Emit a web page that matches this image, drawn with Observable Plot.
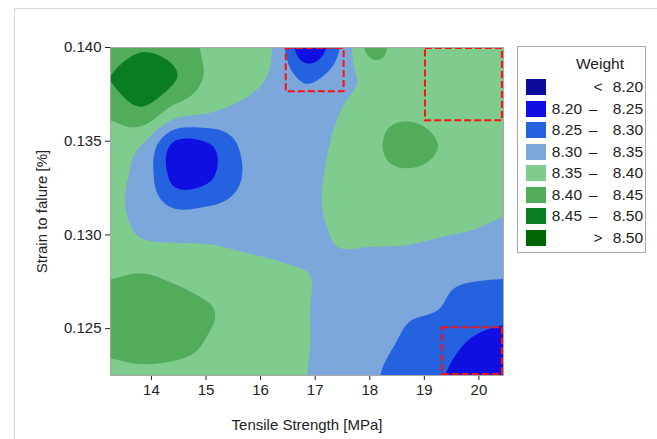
<!DOCTYPE html>
<html><head><meta charset="utf-8">
<script src="https://cdn.jsdelivr.net/npm/d3@7"></script>
<script src="https://cdn.jsdelivr.net/npm/@observablehq/plot@0.6"></script>
<style>
body{margin:0;background:#fff;}
#wrap{position:relative;width:657px;height:439px;overflow:hidden;font-family:"Liberation Sans",Arial,sans-serif;}
#panel{position:absolute;left:14px;top:8px;width:700px;height:500px;border-left:1px solid #d6d6d6;border-top:1px solid #d6d6d6;}
#chart{position:absolute;left:0;top:0;}
#legend{position:absolute;left:517px;top:46px;width:127px;height:205px;border:1px solid #a9a9a9;background:#fff;font-size:15.5px;color:#222;}
#legend .title{position:absolute;left:0;width:164px;top:8px;text-align:center;}
#legend .row{position:absolute;left:0;width:127px;height:20px;line-height:20px;}
#legend .sw{position:absolute;left:8px;top:2px;width:20px;height:16px;}
#legend .lo{position:absolute;left:28px;width:36px;text-align:right;}
#legend .mid{position:absolute;left:67px;width:16px;text-align:center;}
#legend .hi{position:absolute;left:82px;width:43px;text-align:right;}
</style>
</head><body>
<div id="wrap"><div id="panel"></div><div id="chart"></div><div id="legend"></div></div>
<script>
// grid of Weight values
const xGrid = [13.25, 13.85, 14.45, 15.05, 15.65, 16.25, 16.85, 17.45, 18.05, 18.65, 19.25, 19.85, 20.45];
const yGrid = [0.140, 0.13825, 0.1365, 0.13475, 0.133, 0.13125, 0.1295, 0.12775, 0.126, 0.12425, 0.1225];
const weightRows = [
  [8.425, 8.445, 8.43, 8.39, 8.37, 8.345, 8.21, 8.30, 8.418, 8.36, 8.37, 8.37, 8.37],
  [8.45, 8.49, 8.45, 8.39, 8.37, 8.34, 8.295, 8.33, 8.365, 8.38, 8.37, 8.37, 8.37],
  [8.41, 8.435, 8.37, 8.35, 8.335, 8.32, 8.315, 8.35, 8.38, 8.39, 8.38, 8.37, 8.37],
  [8.37, 8.345, 8.235, 8.245, 8.305, 8.32, 8.33, 8.36, 8.385, 8.43, 8.40, 8.375, 8.37],
  [8.36, 8.33, 8.235, 8.245, 8.30, 8.32, 8.34, 8.36, 8.38, 8.385, 8.38, 8.37, 8.36],
  [8.36, 8.335, 8.305, 8.31, 8.32, 8.325, 8.34, 8.36, 8.37, 8.37, 8.365, 8.36, 8.352],
  [8.37, 8.355, 8.352, 8.35, 8.345, 8.34, 8.335, 8.352, 8.352, 8.351, 8.345, 8.34, 8.335],
  [8.398, 8.405, 8.39, 8.37, 8.365, 8.36, 8.352, 8.33, 8.32, 8.315, 8.31, 8.305, 8.302],
  [8.43, 8.44, 8.43, 8.405, 8.375, 8.365, 8.352, 8.325, 8.315, 8.305, 8.30, 8.275, 8.265],
  [8.42, 8.435, 8.425, 8.395, 8.37, 8.36, 8.352, 8.325, 8.31, 8.295, 8.27, 8.247, 8.235],
  [8.38, 8.385, 8.38, 8.375, 8.365, 8.36, 8.35, 8.33, 8.305, 8.285, 8.255, 8.235, 8.215]
];
const bandBreaks = [8.20, 8.25, 8.30, 8.35, 8.40, 8.45, 8.50];
const contourLevels = [8.10, 8.20, 8.25, 8.30, 8.35, 8.40, 8.45, 8.50];
const bandColors = ["#0b0b9c", "#0f0fe2", "#2462e0", "#7ba7da", "#80cc8f", "#52ad5b", "#0a7d21", "#006600"];
const xTicks = [14, 15, 16, 17, 18, 19, 20];
const yTicks = [0.125, 0.130, 0.135, 0.140];
const highlightBoxes = [
  {x1: 16.47, x2: 17.53, y1: 0.13764, y2: 0.13995},
  {x1: 19.02, x2: 20.43, y1: 0.13609, y2: 0.13995},
  {x1: 19.33, x2: 20.43, y1: 0.12255, y2: 0.12505}
];

const points = yGrid.flatMap((y, j) => xGrid.map((x, i) => ({x, y, weight: weightRows[j][i]})));

// smooth (Catmull-Rom) interpolation of the regular sample grid onto Plot's raster
function gridCubic(index, width, height, X, Y, V) {
  const nx = xGrid.length, ny = yGrid.length;
  const x0 = X[0], dx = (X[nx - 1] - X[0]) / (nx - 1);
  const y0 = Y[0], dy = (Y[(ny - 1) * nx] - Y[0]) / (ny - 1);
  const val = (i, j) => V[Math.max(0, Math.min(ny - 1, j)) * nx + Math.max(0, Math.min(nx - 1, i))];
  const cr = (p0, p1, p2, p3, t) => p1 + 0.5 * t * (p2 - p0 + t * (2 * p0 - 5 * p1 + 4 * p2 - p3 + t * (3 * (p1 - p2) + p3 - p0)));
  const out = new Float64Array(width * height);
  for (let py = 0; py < height; ++py) {
    const v = (py + 0.5 - y0) / dy, j = Math.floor(v), tv = v - j;
    for (let px = 0; px < width; ++px) {
      const u = (px + 0.5 - x0) / dx, i = Math.floor(u), tu = u - i;
      const r0 = cr(val(i - 1, j - 1), val(i, j - 1), val(i + 1, j - 1), val(i + 2, j - 1), tu);
      const r1 = cr(val(i - 1, j), val(i, j), val(i + 1, j), val(i + 2, j), tu);
      const r2 = cr(val(i - 1, j + 1), val(i, j + 1), val(i + 1, j + 1), val(i + 2, j + 1), tu);
      const r3 = cr(val(i - 1, j + 2), val(i, j + 2), val(i + 1, j + 2), val(i + 2, j + 2), tu);
      out[py * width + px] = cr(r0, r1, r2, r3, tv);
    }
  }
  return out;
}

const chart = Plot.plot({
  width: 657, height: 439,
  marginLeft: 110, marginRight: 154, marginTop: 47, marginBottom: 64,
  style: {fontFamily: "'Liberation Sans', Arial, sans-serif", fontSize: "15px", color: "#222", background: "transparent"},
  x: {domain: [13.25, 20.45], ticks: xTicks, tickSize: 5, tickPadding: 4, label: "Tensile Strength [MPa]", labelAnchor: "center", labelOffset: 54, labelArrow: "none"},
  y: {domain: [0.1225, 0.140], ticks: yTicks, tickFormat: d3.format(".3f"), tickSize: 5, tickPadding: 4, label: "Strain to falure [%]", labelAnchor: "center", labelOffset: 74, labelArrow: "none"},
  color: {type: "threshold", domain: bandBreaks, range: bandColors},
  marks: [
    Plot.contour(points, {x: "x", y: "y", fill: "weight", thresholds: contourLevels, interpolate: gridCubic, pixelSize: 1, stroke: "none"}),
    Plot.rect(highlightBoxes, {x1: "x1", x2: "x2", y1: "y1", y2: "y2", fill: "none", stroke: "#ff1010", strokeWidth: 2, strokeDasharray: "7,3"}),
    Plot.frame({stroke: "#a8a8a8"})
  ]
});
document.getElementById("chart").appendChild(chart);

// legend
const legend = document.getElementById("legend");
const t = document.createElement("div");
t.className = "title"; t.textContent = "Weight"; legend.appendChild(t);
const fmt = d3.format(".2f");
bandColors.forEach((c, i) => {
  const row = document.createElement("div");
  row.className = "row";
  row.style.top = (30 + i * 21.5) + "px";
  let lo = "", mid = "", hi = "";
  if (i === 0) { mid = "<"; hi = fmt(bandBreaks[0]); }
  else if (i === bandColors.length - 1) { mid = ">"; hi = fmt(bandBreaks[bandBreaks.length - 1]); }
  else { lo = fmt(bandBreaks[i - 1]); mid = "–"; hi = fmt(bandBreaks[i]); }
  row.innerHTML = `<span class="sw" style="background:${c}"></span><span class="lo">${lo}</span><span class="mid" style="${i === 0 || i === bandColors.length - 1 ? 'left:72px' : ''}">${mid}</span><span class="hi">${hi}</span>`;
  legend.appendChild(row);
});
</script>
</body></html>
